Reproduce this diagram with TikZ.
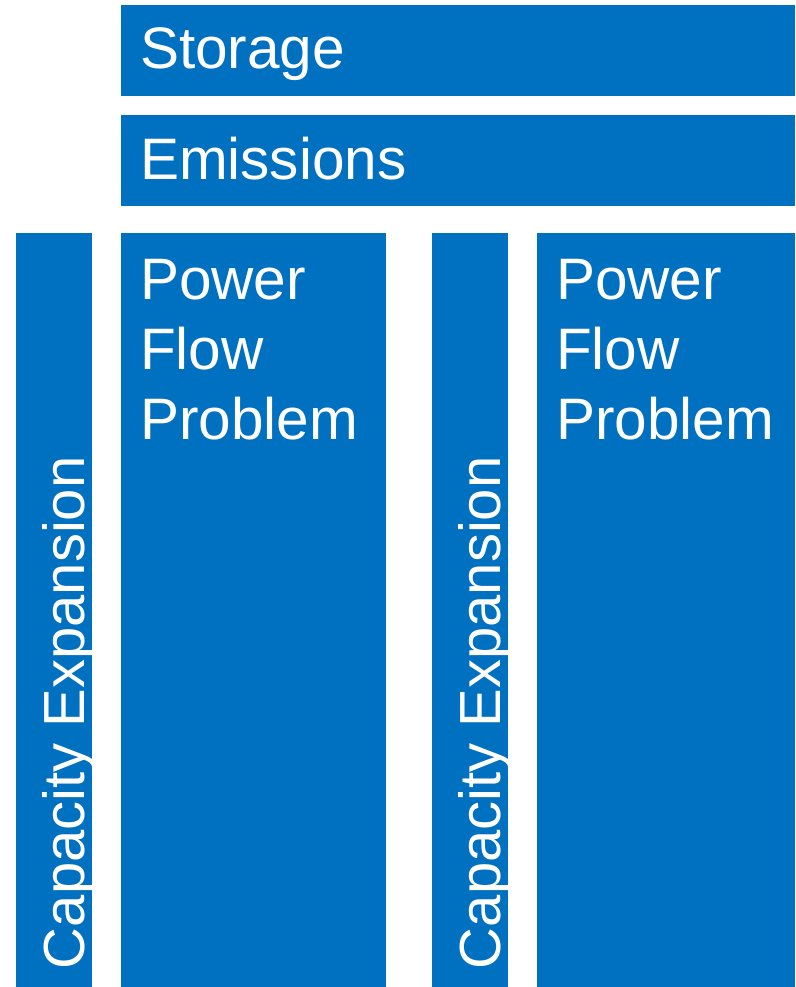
\documentclass[tikz,border=0pt]{standalone}
\usepackage{fontspec}
\setmainfont{Liberation Sans}
\usetikzlibrary{positioning}
\definecolor{ppblue}{RGB}{0,112,192}
\tikzset{
  block/.style={fill=ppblue, draw=none, inner sep=0pt, outer sep=0pt, anchor=north west},
  caption/.style={text=white, inner sep=0pt, outer sep=0pt, anchor=base west,
                  align=left, font=\fontsize{58.5}{70}\selectfont},
  sidecaption/.style={caption, rotate=90, font=\fontsize{58}{70}\selectfont}
}

\begin{document}
\begin{tikzpicture}[x=1pt, y=-1pt]
\useasboundingbox (0,0) rectangle (795,987);
% blocks
\node[block, minimum width=674pt, minimum height=91pt] (storage) at (121,5) {};
\node[block, minimum width=674pt, minimum height=91pt] (emis) at (121,115) {};
\node[block, minimum width=76pt, minimum height=754pt] (cap1) at (16,233) {};
\node[block, minimum width=265pt, minimum height=754pt] (pf1) at (121,233) {};
\node[block, minimum width=76pt, minimum height=754pt] (cap2) at (432,233) {};
\node[block, minimum width=258pt, minimum height=754pt] (pf2) at (537,233) {};
% texts (base of last line)
\node[caption] (storagetxt) at (140,69) {Storage};
\node[caption] (emistxt) at (140,180) {Emissions};
\node[caption] (pf1txt) at (140,439) {Power\\Flow\\Problem};
\node[caption] (pf2txt) at (556,439) {Power\\Flow\\Problem};
\node[sidecaption] (cap1txt) at (84,969) {Capacity Expansion};
\node[sidecaption] (cap2txt) at (500,969) {Capacity Expansion};
\end{tikzpicture}
\end{document}
